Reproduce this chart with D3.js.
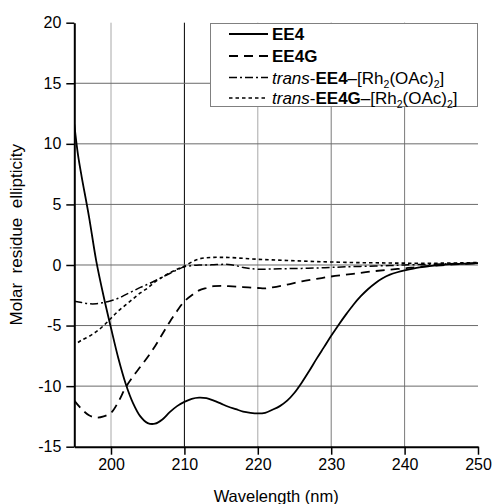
<!DOCTYPE html>
<html>
<head>
<meta charset="utf-8">
<script src="https://cdn.jsdelivr.net/npm/d3@7"></script>
<style>
  html, body { margin: 0; padding: 0; background: #fff; }
  svg { display: block; font-family: "Liberation Sans", Arial, sans-serif; }
</style>
</head>
<body>
<svg id="chart" width="492" height="504"></svg>
<script>
// ---- data ----
const xTicks = [200, 210, 220, 230, 240, 250];
const yTicks = [-15, -10, -5, 0, 5, 10, 15, 20];
const xGrid = [200, 210, 220, 230, 240];
const yGrid = [-10, -5, 0, 5, 10, 15];

const seriesNames = ["EE4", "EE4G", "trans-EE4–[Rh2(OAc)2]", "trans-EE4G–[Rh2(OAc)2]"];

const ee4Wl =  [195, 195.5, 196, 197, 198, 199, 200, 201, 202, 203, 204, 205, 206, 207, 208, 209, 210, 211, 212, 213, 214, 215, 216, 217, 218, 219, 220, 221, 222, 223, 224, 225, 226, 227, 228, 229, 230, 231, 232, 233, 234, 235, 236, 237, 238, 239, 240, 242, 244, 246, 248, 250];
const ee4Val = [11.6, 9.1, 7.3, 4.0, 0.3, -2.6, -5.2, -7.7, -9.8, -11.4, -12.5, -13.05, -13.1, -12.75, -12.15, -11.65, -11.3, -11.05, -10.95, -11.0, -11.2, -11.45, -11.7, -11.9, -12.1, -12.2, -12.25, -12.2, -11.95, -11.65, -11.2, -10.55, -9.7, -8.75, -7.75, -6.8, -5.85, -4.95, -4.1, -3.3, -2.6, -2.0, -1.5, -1.1, -0.8, -0.6, -0.45, -0.2, -0.05, 0.05, 0.1, 0.15];

const ee4gWl =  [195, 196, 197, 198, 199, 200, 201, 202, 203, 204, 205, 206, 207, 208, 209, 210, 211, 212, 213, 214, 215, 216, 218, 220, 221, 222, 224, 226, 228, 230, 232, 234, 236, 238, 240, 242, 245, 248, 250];
const ee4gVal = [-11.2, -11.9, -12.4, -12.6, -12.5, -12.2, -11.3, -10.1, -9.2, -8.4, -7.6, -6.7, -5.7, -4.7, -3.8, -3.0, -2.5, -2.1, -1.9, -1.75, -1.72, -1.75, -1.82, -1.9, -1.93, -1.85, -1.62, -1.35, -1.15, -0.95, -0.8, -0.65, -0.5, -0.38, -0.28, -0.15, -0.02, 0.08, 0.15];

const tEe4Wl =  [195, 196, 197, 198, 199, 200, 201, 202, 203, 204, 205, 206, 207, 208, 209, 210, 211, 212, 213, 214, 215, 216, 217, 218, 219, 220, 222, 224, 226, 228, 230, 232, 235, 238, 240, 243, 246, 250];
const tEe4Val = [-3.0, -3.1, -3.2, -3.2, -3.1, -2.95, -2.75, -2.45, -2.15, -1.85, -1.6, -1.3, -1.0, -0.7, -0.4, -0.15, -0.05, 0.0, 0.0, 0.02, 0.05, 0.05, -0.05, -0.2, -0.3, -0.35, -0.33, -0.3, -0.28, -0.25, -0.2, -0.15, -0.1, -0.05, 0.0, 0.05, 0.1, 0.15];

const tEe4gWl =  [195.5, 196, 197, 198, 199, 200, 201, 202, 203, 204, 205, 206, 207, 208, 209, 210, 211, 212, 213, 214, 215, 216, 218, 220, 222, 224, 226, 228, 230, 233, 236, 240, 245, 250];
const tEe4gVal = [-6.4, -6.2, -5.9, -5.5, -5.0, -4.4, -3.8, -3.3, -2.8, -2.3, -1.9, -1.4, -1.0, -0.65, -0.35, -0.1, 0.25, 0.5, 0.6, 0.63, 0.63, 0.62, 0.55, 0.47, 0.42, 0.37, 0.33, 0.28, 0.25, 0.2, 0.18, 0.15, 0.15, 0.2];

// ---- layout ----
const svg = d3.select("#chart");
const x = d3.scaleLinear().domain([195, 250]).range([74.3, 478]);
const y = d3.scaleLinear().domain([-15, 20]).range([446.7, 22.7]);

const zip = (a, b) => a.map((v, i) => [v, b[i]]);
const series = [
  { name: seriesNames[0], data: zip(ee4Wl, ee4Val), dash: null, w: 1.8 },
  { name: seriesNames[1], data: zip(ee4gWl, ee4gVal), dash: "9,6", w: 1.8 },
  { name: seriesNames[2], data: zip(tEe4Wl, tEe4Val), dash: "8,3,2,3", w: 1.5 },
  { name: seriesNames[3], data: zip(tEe4gWl, tEe4gVal), dash: "3.5,3", w: 1.6 }
];

// grid
const grid = svg.append("g");
grid.selectAll("line.v").data(xGrid).join("line")
  .attr("x1", d => x(d)).attr("x2", d => x(d))
  .attr("y1", y(20)).attr("y2", y(-15))
  .attr("stroke", d => d === 210 ? "#000" : (d === 200 || d === 220 ? "#a8a8a8" : "#7a7a7a"))
  .attr("stroke-width", 1);
grid.selectAll("line.h").data(yGrid).join("line")
  .attr("x1", x(195)).attr("x2", x(250))
  .attr("y1", d => y(d)).attr("y2", d => y(d))
  .attr("stroke", "#6a6a6a").attr("stroke-width", 1);

// clip
svg.append("clipPath").attr("id", "clip").append("rect")
  .attr("x", x(195)).attr("y", y(20)).attr("width", x(250) - x(195)).attr("height", y(-15) - y(20));

const line = d3.line().x(d => x(d[0])).y(d => y(d[1])).curve(d3.curveCatmullRom.alpha(0.5));
const lines = svg.append("g").attr("clip-path", "url(#clip)");
lines.selectAll("path").data(series).join("path")
  .attr("d", d => line(d.data))
  .attr("fill", "none").attr("stroke", "#000")
  .attr("stroke-width", d => d.w)
  .attr("stroke-dasharray", d => d.dash);

// axes
const xAxis = svg.append("g").attr("transform", `translate(0,${y(-15)})`)
  .call(d3.axisBottom(x).tickValues(xTicks).tickSize(8).tickSizeOuter(0).tickPadding(4).tickFormat(d3.format("d")));
const yAxis = svg.append("g").attr("transform", `translate(${x(195)},0)`)
  .call(d3.axisLeft(y).tickValues(yTicks).tickSize(8).tickSizeOuter(0).tickPadding(5).tickFormat(d => String(d)));
[xAxis, yAxis].forEach(a => {
  a.select(".domain").attr("stroke", "#000").attr("stroke-width", 2);
  a.selectAll(".tick line").attr("stroke", "#000").attr("stroke-width", 1.5);
  a.selectAll(".tick text").attr("fill", "#000").attr("font-size", 16)
    .attr("font-family", "'Liberation Sans', Arial, sans-serif");
});

// axis titles
svg.append("text").attr("x", (x(195) + x(250)) / 2).attr("y", 502)
  .attr("text-anchor", "middle").attr("font-size", 16.5).text("Wavelength (nm)");
svg.append("text")
  .attr("transform", `translate(22,${(y(20) + y(-15)) / 2}) rotate(-90)`)
  .attr("text-anchor", "middle").attr("font-size", 17)
  .style("white-space", "pre").text("Molar  residue  ellipticity");

// legend
const lg = svg.append("g");
lg.append("rect").attr("x", 210.5).attr("y", 23.5).attr("width", 267).attr("height", 83)
  .attr("fill", "#fff").attr("stroke", "#808080").attr("stroke-width", 1);
const rowY = [34, 56, 77.5, 98];
series.forEach((s, i) => {
  lg.append("line").attr("x1", 229).attr("x2", 268).attr("y1", rowY[i]).attr("y2", rowY[i])
    .attr("stroke", "#000").attr("stroke-width", s.w).attr("stroke-dasharray", s.dash);
});
const parts = [
  [["EE4", "bold"]],
  [["EE4G", "bold"]],
  [["trans", "italic"], ["-", ""], ["EE4", "bold"], ["–[Rh", ""], ["2", "sub"], ["(OAc)", ""], ["2", "sub"], ["]", ""]],
  [["trans", "italic"], ["-", ""], ["EE4G", "bold"], ["–[Rh", ""], ["2", "sub"], ["(OAc)", ""], ["2", "sub"], ["]", ""]]
];
parts.forEach((p, i) => {
  const t = lg.append("text").attr("x", 272).attr("y", rowY[i] + 6).attr("font-size", 17);
  let inSub = false;
  p.forEach(([txt, st]) => {
    const ts = t.append("tspan").text(txt);
    if (st === "bold") ts.attr("font-weight", "bold");
    if (st === "italic") ts.attr("font-style", "italic");
    if (st === "sub") { ts.attr("font-size", 10.5).attr("dy", 4); inSub = true; }
    else if (inSub) { ts.attr("dy", -4); inSub = false; }
  });
});
</script>
</body>
</html>
